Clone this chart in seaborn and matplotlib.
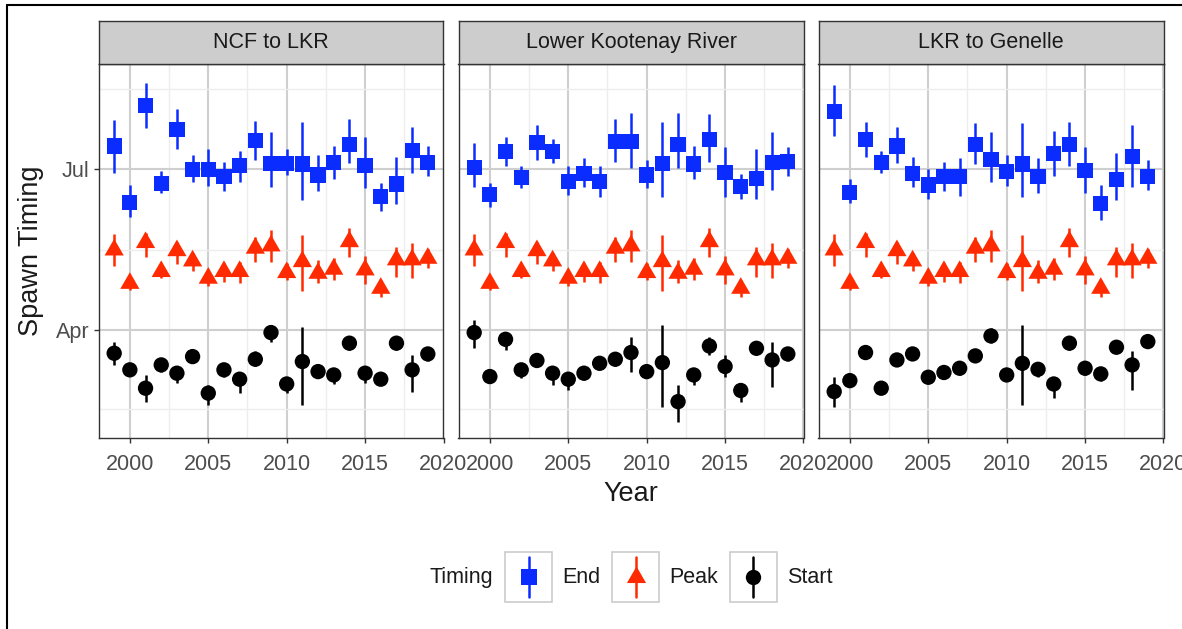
import numpy as np
import pandas as pd
import matplotlib
matplotlib.use("Agg")
import matplotlib.pyplot as plt
from matplotlib.path import Path
from matplotlib.lines import Line2D
from matplotlib.patches import Rectangle
from matplotlib.legend_handler import HandlerBase
import seaborn as sns

# ---------------- data (day of year) ----------------
years = list(range(1999, 2020))
sections = ["NCF to LKR", "Lower Kootenay River", "LKR to Genelle"]
timings = ["End", "Peak", "Start"]

# NCF to LKR
ncf_end_mid = [195.2, 163.1, 217.9, 174.1, 204.3, 182.0, 182.0, 177.8, 183.9, 198.2, 185.4, 185.4, 185.0, 178.8, 185.8, 195.8, 183.9, 166.5, 173.7, 192.6, 185.8]
ncf_end_lo = [180.1, 155.2, 205.2, 168.4, 193.3, 175.0, 172.6, 169.4, 175.0, 187.3, 172.2, 178.8, 164.3, 169.4, 176.3, 185.4, 171.2, 158.6, 162.4, 180.1, 178.2]
ncf_end_hi = [209.9, 173.1, 231.1, 181.2, 216.0, 190.1, 193.3, 186.3, 192.6, 209.4, 203.3, 193.3, 209.0, 190.1, 195.2, 210.3, 200.1, 174.1, 189.2, 206.2, 195.2]
ncf_start_mid = [77.8, 68.4, 58.0, 71.2, 66.5, 75.9, 55.2, 68.4, 63.1, 74.4, 89.5, 60.4, 73.1, 67.4, 65.5, 83.5, 66.5, 63.1, 83.5, 68.4, 77.4]
ncf_start_lo = [71.2, 65.5, 50.4, 67.4, 61.2, 73.1, 48.6, 64.6, 55.5, 70.3, 84.4, 55.2, 48.6, 63.7, 60.4, 79.7, 61.2, 59.9, 79.7, 56.1, 73.6]
ncf_start_hi = [84.4, 71.2, 65.5, 75.0, 70.3, 78.8, 59.9, 72.2, 67.4, 79.3, 93.9, 63.7, 92.9, 71.8, 69.3, 87.2, 70.3, 66.5, 87.2, 76.9, 81.2]

# Lower Kootenay River
lkr_end_mid = [183.1, 167.5, 192.0, 177.5, 197.1, 192.0, 175.0, 179.4, 175.0, 197.7, 197.7, 178.8, 185.4, 195.8, 185.0, 199.0, 180.1, 172.2, 176.9, 185.8, 186.3]
lkr_end_lo = [172.2, 160.9, 183.9, 171.2, 187.3, 185.4, 167.5, 172.2, 166.5, 186.3, 182.6, 171.2, 166.5, 182.6, 176.3, 186.3, 166.5, 165.0, 165.0, 170.3, 178.2]
lkr_end_hi = [196.7, 174.1, 200.5, 183.9, 207.1, 199.0, 183.9, 188.2, 183.9, 210.3, 214.1, 187.3, 209.0, 214.1, 195.2, 213.3, 194.5, 179.4, 193.3, 203.3, 194.5]
lkr_start_mid = [89.5, 64.6, 85.7, 68.4, 73.7, 66.5, 63.1, 66.5, 72.1, 74.4, 78.2, 67.4, 72.5, 50.4, 65.5, 81.9, 70.3, 56.7, 80.6, 74.0, 77.4]
lkr_start_lo = [80.6, 61.8, 79.7, 63.7, 70.7, 59.9, 57.0, 62.7, 69.3, 70.7, 67.4, 64.6, 47.6, 39.1, 59.9, 76.9, 64.2, 50.4, 76.9, 58.6, 73.6]
lkr_start_hi = [96.7, 67.4, 90.0, 72.2, 76.9, 70.3, 66.5, 70.3, 75.0, 77.8, 87.2, 70.7, 93.9, 59.9, 69.3, 87.2, 76.9, 60.8, 84.4, 83.9, 81.2]

# LKR to Genelle
gen_end_mid = [214.7, 168.8, 199.0, 185.8, 195.2, 179.7, 173.1, 177.8, 177.8, 195.8, 187.7, 180.7, 185.0, 177.8, 190.7, 195.8, 181.2, 162.7, 176.0, 189.2, 177.8]
gen_end_lo = [200.9, 162.7, 189.2, 179.7, 185.4, 171.8, 165.0, 169.9, 166.9, 185.0, 174.5, 172.6, 166.1, 168.4, 178.2, 183.9, 168.4, 153.3, 164.3, 172.2, 170.3]
gen_end_hi = [229.8, 176.3, 209.0, 192.6, 206.2, 189.2, 182.0, 186.3, 188.2, 208.4, 203.3, 190.1, 208.4, 188.2, 203.9, 209.0, 194.8, 173.1, 191.1, 207.1, 187.3]
gen_start_mid = [56.1, 62.3, 78.2, 58.0, 74.0, 77.4, 64.2, 66.9, 69.3, 76.3, 87.6, 65.5, 72.1, 68.7, 60.4, 83.5, 69.3, 66.1, 81.2, 71.2, 84.4]
gen_start_lo = [47.6, 58.9, 75.0, 55.2, 70.7, 74.0, 61.2, 63.7, 65.5, 73.1, 83.5, 62.3, 48.6, 64.6, 52.3, 79.7, 65.5, 61.8, 78.2, 57.0, 81.2]
gen_start_hi = [64.6, 65.5, 81.2, 61.2, 77.4, 80.6, 67.4, 70.3, 72.5, 79.7, 92.0, 68.7, 93.9, 72.2, 63.7, 87.6, 72.5, 69.3, 84.4, 79.3, 87.6]

# Peak timing (identical in all three sections in the figure)
peak_mid = [136.3, 117.4, 140.5, 124.1, 135.9, 130.1, 120.3, 124.1, 124.1, 137.3, 138.6, 123.5, 129.7, 123.1, 125.4, 141.0, 125.0, 114.6, 130.7, 130.7, 131.6]
peak_lo = [127.3, 113.7, 132.2, 120.3, 128.4, 124.1, 115.6, 118.4, 117.4, 129.2, 129.2, 119.3, 113.3, 117.4, 119.3, 132.2, 117.1, 109.5, 121.2, 120.3, 125.9]
peak_hi = [145.4, 119.3, 145.8, 128.8, 141.0, 134.8, 125.4, 128.8, 129.2, 143.9, 147.7, 128.8, 144.8, 130.7, 131.6, 148.6, 132.9, 119.3, 138.2, 140.5, 136.7]

y_break_vals = [91, 182]
y_break_labels = ["Apr", "Jul"]
y_minor_vals = [46, 136.5, 227.5]
x_break_vals = [2000, 2005, 2010, 2015, 2020]
x_minor_vals = [2002.5, 2007.5, 2012.5, 2017.5]

colors = {"End": "#0A2CFF", "Peak": "#FF2A00", "Start": "#000000"}

# ---------------- build long table ----------------
section_data = {
    "NCF to LKR": {"End": (ncf_end_mid, ncf_end_lo, ncf_end_hi),
                   "Peak": (peak_mid, peak_lo, peak_hi),
                   "Start": (ncf_start_mid, ncf_start_lo, ncf_start_hi)},
    "Lower Kootenay River": {"End": (lkr_end_mid, lkr_end_lo, lkr_end_hi),
                             "Peak": (peak_mid, peak_lo, peak_hi),
                             "Start": (lkr_start_mid, lkr_start_lo, lkr_start_hi)},
    "LKR to Genelle": {"End": (gen_end_mid, gen_end_lo, gen_end_hi),
                       "Peak": (peak_mid, peak_lo, peak_hi),
                       "Start": (gen_start_mid, gen_start_lo, gen_start_hi)},
}
rows = []
for sec in sections:
    for t in timings:
        mid, lo, hi = section_data[sec][t]
        for yr, m, l, h in zip(years, mid, lo, hi):
            rows.append({"section": sec, "Timing": t, "year": yr, "mid": m, "lo": l, "hi": h})
df = pd.DataFrame(rows)

# ---------------- styling ----------------
sns.set_theme(style="white")
FONT = ["Liberation Sans", "DejaVu Sans"]
plt.rcParams["font.family"] = FONT

tri = Path([(0, 1), (-0.866, -0.5), (0.866, -0.5), (0, 1)],
           [Path.MOVETO, Path.LINETO, Path.LINETO, Path.CLOSEPOLY])
markers = {"End": "s", "Peak": tri, "Start": "o"}
sizes = {"End": 120, "Peak": 255, "Start": 122}

W, H = 1182, 629
fig = plt.figure(figsize=(W / 100, H / 100), dpi=100)

def fx(px):
    return px / W

def fy(py):
    return 1 - py / H

panel_lefts = [98.5, 458.5, 818.5]
panel_w = 345
top_px, bot_px, strip_top = 64, 438, 21

tick_col = "#4D4D4D"
edge_col = "#333333"

for i, sec in enumerate(sections):
    ax = fig.add_axes([fx(panel_lefts[i]), fy(bot_px), fx(panel_w), (bot_px - top_px) / H])
    sub = df[df["section"] == sec]
    ax.set_xlim(1998, 2020)
    ax.set_ylim(29.8, 241.6)
    ax.set_xticks(x_break_vals)
    ax.set_xticks(x_minor_vals, minor=True)
    ax.set_yticks(y_break_vals)
    ax.set_yticks(y_minor_vals, minor=True)
    ax.set_yticklabels(y_break_labels if i == 0 else [])
    ax.set_xticklabels([str(v) for v in x_break_vals])
    ax.grid(which="major", color="#CFCFCF", lw=1.5, zorder=0)
    ax.grid(which="minor", color="#EDEDED", lw=1.0, zorder=0)
    ax.set_axisbelow(True)
    for t in timings:
        s2 = sub[sub["Timing"] == t]
        ax.vlines(s2["year"], s2["lo"], s2["hi"], colors=colors[t], lw=1.8, zorder=2)
    sns.scatterplot(data=sub, x="year", y="mid", hue="Timing", style="Timing", size="Timing",
                    palette=colors, markers=markers, sizes=sizes, linewidth=0,
                    legend=False, ax=ax, zorder=3)
    ax.set_xlabel("")
    ax.set_ylabel("")
    for sp in ax.spines.values():
        sp.set_color(edge_col)
        sp.set_linewidth(1.0)
    ax.tick_params(axis="both", which="major", length=3.5, width=1.0, color=edge_col,
                   labelcolor=tick_col, labelsize=15.5, left=(i == 0), bottom=True)
    ax.tick_params(axis="y", which="major", pad=3)
    ax.tick_params(axis="x", which="major", pad=8)
    ax.tick_params(axis="both", which="minor", length=0)
    # strip
    sax = fig.add_axes([fx(panel_lefts[i]), fy(top_px), fx(panel_w), (top_px - strip_top) / H])
    sax.set_facecolor("#CDCDCD")
    sax.set_xticks([])
    sax.set_yticks([])
    for sp in sax.spines.values():
        sp.set_color(edge_col)
        sp.set_linewidth(1.0)
    sax.text(0.5, 0.5, sec, ha="center", va="center", fontsize=15.5, color="#1A1A1A",
             transform=sax.transAxes)

# axis titles
fig.text(fx(631), fy(494), "Year", ha="center", va="center", fontsize=19.5, color="#1A1A1A")
fig.text(fx(31), fy(251), "Spawn Timing", ha="center", va="center", rotation=90,
         fontsize=19.5, color="#1A1A1A")

# legend
class KeyHandler(HandlerBase):
    def __init__(self, color, marker, ms):
        super().__init__()
        self.color, self.marker, self.ms = color, marker, ms

    def create_artists(self, legend, orig_handle, xdescent, ydescent, width, height, fontsize, trans):
        x0, y0 = -xdescent, -ydescent
        rect = Rectangle((x0, y0), width, height, facecolor="white", edgecolor="#CCCCCC",
                         lw=1.2, transform=trans)
        cx, cy = x0 + width / 2, y0 + height / 2
        ln = Line2D([cx, cx], [y0 + height * 0.1, y0 + height * 0.9], color=self.color,
                    lw=1.8, transform=trans)
        mk = Line2D([cx], [cy], marker=self.marker, markersize=self.ms, color=self.color,
                    markeredgewidth=0, linestyle="none", transform=trans)
        return [rect, ln, mk]

handles, hmap = [], {}
for t in timings:
    h = Line2D([], [], color=colors[t])
    handles.append(h)
    hmap[h] = KeyHandler(colors[t], markers[t], np.sqrt(sizes[t]))

fig.text(fx(493), fy(578), "Timing", ha="right", va="center", fontsize=15.5, color="#1A1A1A")
fig.legend(handles, timings, handler_map=hmap, loc="center left",
           bbox_to_anchor=(fx(505), fy(577)), ncol=3, frameon=False, fontsize=15.5,
           handlelength=2.2, handleheight=3.2, handletextpad=0.45, columnspacing=0.55,
           borderpad=0, borderaxespad=0, labelcolor="#1A1A1A")

# outer frame lines (left and top)
fig.add_artist(Line2D([fx(7), fx(7)], [0, fy(5)], color="black", lw=1.5))
fig.add_artist(Line2D([fx(7), 1], [fy(5), fy(5)], color="black", lw=1.5))

fig.savefig("out.png", dpi=100)
